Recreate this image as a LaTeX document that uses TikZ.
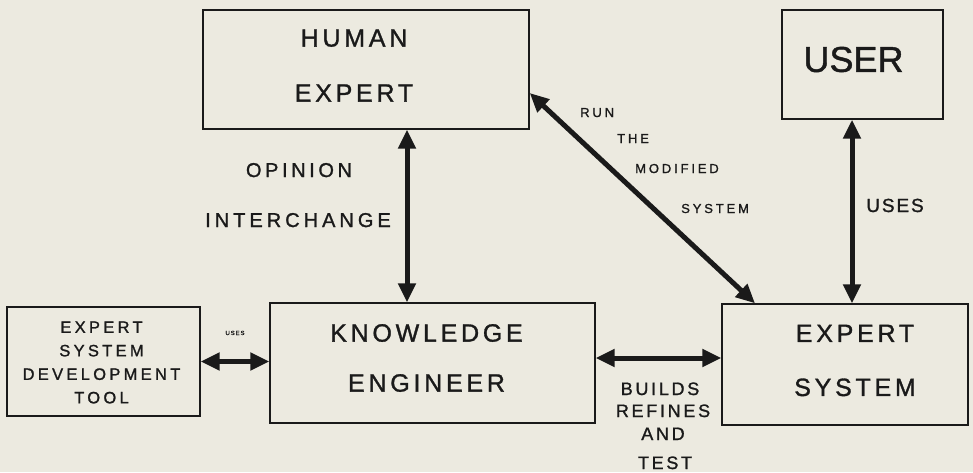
\documentclass[tikz,border=0pt]{standalone}
\usepackage{fontspec}
\setmainfont{Liberation Sans}[LetterSpace=15,FakeBold=1.2]
\usetikzlibrary{arrows.meta}
\definecolor{paper}{HTML}{ECEAE0}
\definecolor{ink}{HTML}{1A1A1A}
\tikzset{
  box/.style={draw=ink, line width=1.4pt, rectangle, inner sep=0pt},
  boxtext/.style={text=ink, inner sep=0pt, align=center},
  arr/.style={draw=ink, line width=5pt, {Triangle[length=19pt,width=17pt]}-{Triangle[length=19pt,width=17pt]}},
  lbl/.style={text=ink, inner sep=0pt, anchor=base},
}
\begin{document}
\begin{tikzpicture}[x=1pt,y=-1pt]
\fill[paper] (0,0) rectangle (973,472);
\useasboundingbox (0,0) rectangle (973,472);

\node[box, minimum width=326pt, minimum height=119pt,
  label={[name=heT, boxtext, xshift=-12pt, yshift=4pt, font=\fontsize{25}{55}\selectfont]center:HUMAN\\EXPERT}] (he) at (366,69.5) {};
\node[box, minimum width=161pt, minimum height=109pt,
  label={[name=userT, boxtext, xshift=-9pt, yshift=5pt, font=\fontsize{36}{40}\selectfont\addfontfeature{LetterSpace=0}]center:USER}] (user) at (862.5,64.5) {};
\node[box, minimum width=193pt, minimum height=109pt,
  label={[name=toolT, boxtext, xshift=-2pt, yshift=-1pt, font=\fontsize{16.5}{23.5}\selectfont\addfontfeature{LetterSpace=20}]center:EXPERT\\SYSTEM\\DEVELOPMENT\\TOOL}] (tool) at (103.5,361.5) {};
\node[box, minimum width=325pt, minimum height=120pt,
  label={[name=keT, boxtext, xshift=-6pt, yshift=5pt, font=\fontsize{25}{50}\selectfont]center:KNOWLEDGE\\ENGINEER}] (ke) at (432.5,363) {};
\node[box, minimum width=246pt, minimum height=121pt,
  label={[name=esT, boxtext, xshift=10pt, yshift=4pt, font=\fontsize{25}{54}\selectfont]center:EXPERT\\SYSTEM}] (es) at (845,364.5) {};

% connectors
\draw[arr] ([xshift=41pt]he.south) -- ([xshift=-25.5pt]ke.north);
\draw[arr] ([xshift=-10.5pt]user.south) -- ([xshift=7pt]es.north);
\draw[arr] ([yshift=-23.5pt]he.east) -- ([xshift=-90pt]es.north);
\draw[arr] (tool.east) -- (tool.east -| ke.west);
\draw[arr] ([yshift=5pt]ke.east) -- ([yshift=5pt]ke.east -| es.west);

% labels
\node[lbl, font=\fontsize{20}{20}\selectfont\addfontfeature{LetterSpace=18}] (op1) at (299,177) {OPINION};
\node[lbl, font=\fontsize{20}{20}\selectfont\addfontfeature{LetterSpace=20}] (op2) at (298,227) {INTERCHANGE};
\node[lbl, anchor=base west, font=\fontsize{13}{13}\selectfont\addfontfeature{LetterSpace=22}] (rn1) at (580,117) {RUN};
\node[lbl, anchor=base west, font=\fontsize{13}{13}\selectfont\addfontfeature{LetterSpace=22}] (rn2) at (617,143) {THE};
\node[lbl, anchor=base west, font=\fontsize{13}{13}\selectfont\addfontfeature{LetterSpace=22}] (rn3) at (635,173) {MODIFIED};
\node[lbl, anchor=base west, font=\fontsize{13}{13}\selectfont\addfontfeature{LetterSpace=22}] (rn4) at (681,213) {SYSTEM};
\node[lbl, font=\fontsize{19}{19}\selectfont\addfontfeature{LetterSpace=10}] (uses) at (895,212) {USES};
\node[lbl, font=\fontsize{6}{6}\selectfont] (uses2) at (235,335) {USES};
\node[lbl, font=\fontsize{18}{18}\selectfont] (b1) at (660,395) {BUILDS};
\node[lbl, font=\fontsize{18}{18}\selectfont] (b2) at (663,417) {REFINES};
\node[lbl, font=\fontsize{18}{18}\selectfont] (b3) at (663,440) {AND};
\node[lbl, font=\fontsize{18}{18}\selectfont] (b4) at (665,469) {TEST};
\end{tikzpicture}
\end{document}
